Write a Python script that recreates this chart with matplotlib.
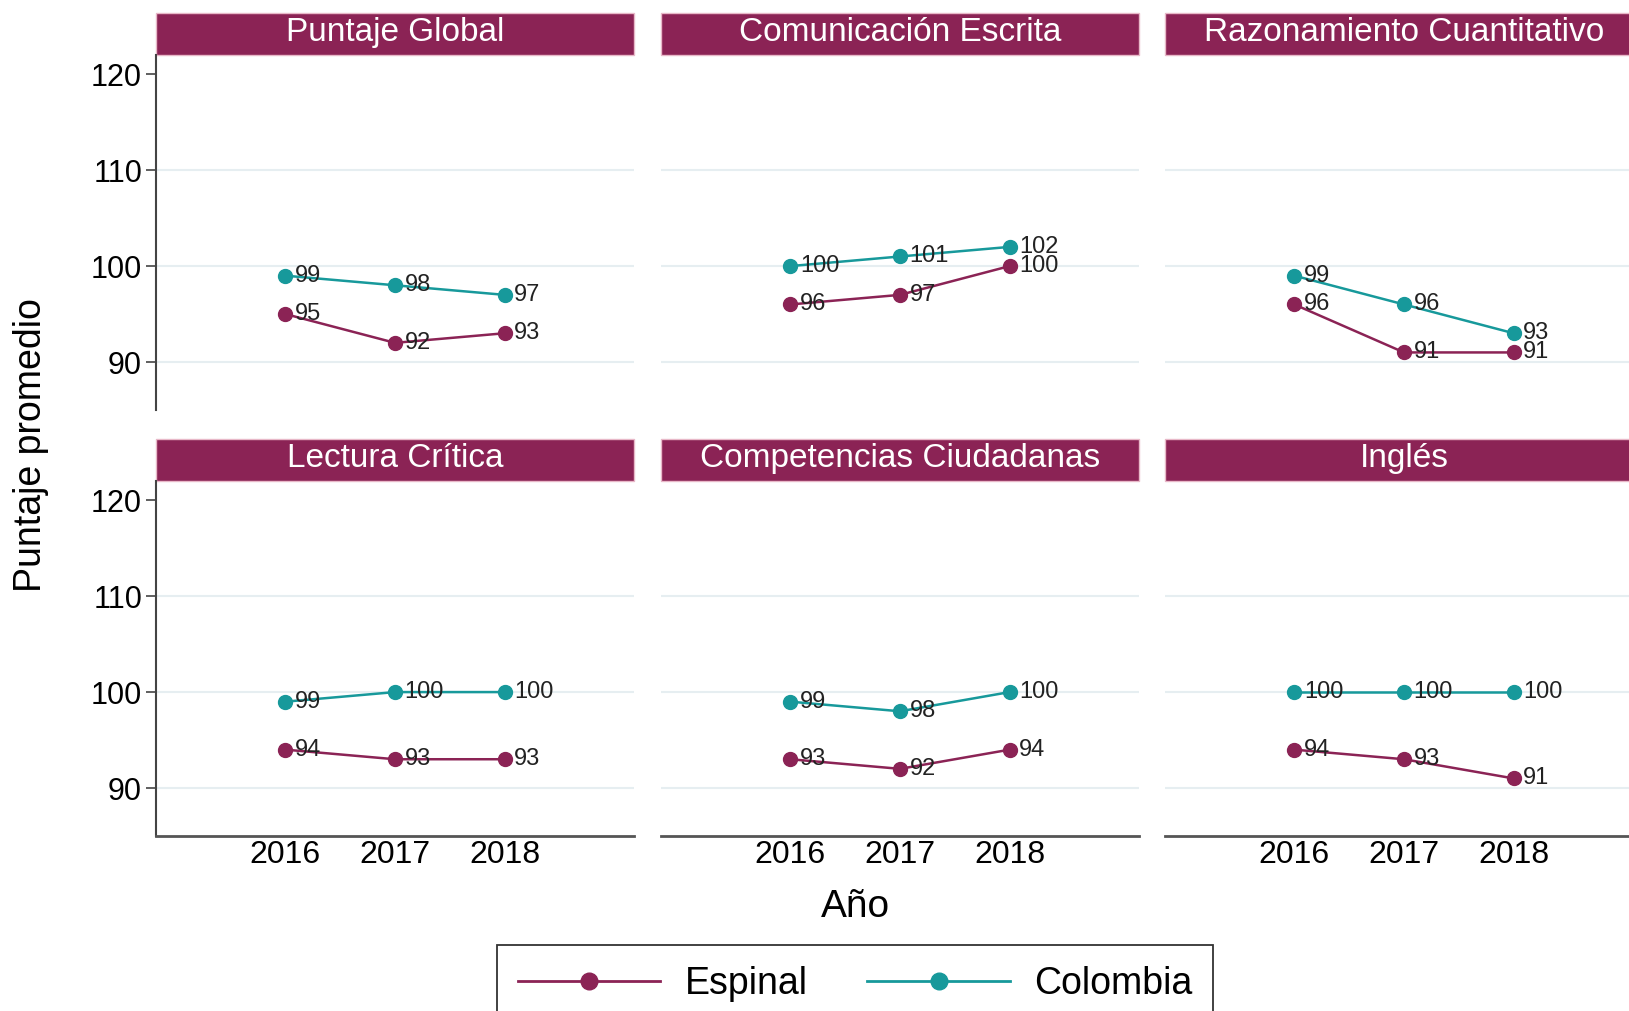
import matplotlib
matplotlib.use("Agg")
import matplotlib.pyplot as plt
from matplotlib.patches import Rectangle
from matplotlib.lines import Line2D

plt.rcParams['font.family'] = ['Liberation Sans', 'DejaVu Sans']

years = [2016, 2017, 2018]
titles = ['Puntaje Global', 'Comunicación Escrita', 'Razonamiento Cuantitativo',
          'Lectura Crítica', 'Competencias Ciudadanas', 'Inglés']
espinal = [[95, 92, 93], [96, 97, 100], [96, 91, 91],
           [94, 93, 93], [93, 92, 94], [94, 93, 91]]
colombia = [[99, 98, 97], [100, 101, 102], [99, 96, 93],
            [99, 100, 100], [99, 98, 100], [100, 100, 100]]
yticks = [90, 100, 110, 120]

maroon = '#8B2355'
teal = '#17999B'
W, H = 1629, 1011

fig = plt.figure(figsize=(W / 100, H / 100), dpi=100)

lefts = [156, 661, 1165]
tops = [55, 481]
aw, ah = 478, 355
head = 42

for i, t in enumerate(titles):
    r, c = divmod(i, 3)
    ax = fig.add_axes([lefts[c] / W, 1 - (tops[r] + ah) / H, aw / W, ah / H])
    ax.set_xlim(2014.82, 2019.18)
    ax.set_ylim(85, 122)
    for g in [90, 100, 110]:
        ax.axhline(g, color='#e6eef1', lw=1.5, zorder=0)

    ax.plot(years, espinal[i], color=maroon, lw=1.8, marker='o', ms=10, zorder=3)
    ax.plot(years, colombia[i], color=teal, lw=1.8, marker='o', ms=10, zorder=3)
    for x, v in zip(years, espinal[i]):
        ax.annotate(str(v), (x, v), xytext=(7, 0), textcoords='offset points',
                    va='center', ha='left', fontsize=17, color='#222222', zorder=4)
    for x, v in zip(years, colombia[i]):
        ax.annotate(str(v), (x, v), xytext=(7, 0), textcoords='offset points',
                    va='center', ha='left', fontsize=17, color='#222222', zorder=4)

    for s in ['top', 'right']:
        ax.spines[s].set_visible(False)
    ax.spines['left'].set_visible(c == 0)
    ax.spines['bottom'].set_visible(r == 1)
    ax.spines['left'].set_color('#444444')
    ax.spines['bottom'].set_color('#555555')
    ax.spines['left'].set_linewidth(1.5)
    ax.spines['bottom'].set_linewidth(2)

    ax.set_yticks(yticks)
    if c == 0:
        ax.tick_params(axis='y', labelsize=22, length=7, width=1.2, color='#444444', pad=3)
    else:
        ax.tick_params(axis='y', left=False, labelleft=False)
    ax.set_xticks(years)
    if r == 1:
        ax.tick_params(axis='x', labelsize=23, length=0, pad=3)
    else:
        ax.tick_params(axis='x', bottom=False, labelbottom=False)

    ax.add_patch(Rectangle((0, 1), 1, head / ah, transform=ax.transAxes, clip_on=False,
                           facecolor=maroon, edgecolor='#e8b8c8', lw=1))
    ax.text(0.5, 1 + head / ah / 2 + 0.004, t, transform=ax.transAxes, ha='center',
            va='center', color='white', fontsize=24)

fig.text(31 / W, 1 - 445 / H, 'Puntaje promedio', rotation=90, ha='center', va='center',
         fontsize=27)
fig.text(855 / W, 1 - 907 / H, 'Año', ha='center', va='center', fontsize=28)

handles = [Line2D([], [], color=maroon, lw=2, marker='o', ms=12),
           Line2D([], [], color=teal, lw=2, marker='o', ms=12)]
leg = fig.legend(handles, ['Espinal', 'Colombia'], loc='upper center',
                 bbox_to_anchor=(855 / W, 1 - 945 / H), ncol=2, fontsize=27,
                 frameon=True, fancybox=False, edgecolor='black', handlelength=3.8,
                 columnspacing=1.6, borderpad=0.55, handletextpad=0.65,
                 borderaxespad=0)
leg.get_frame().set_linewidth(1.3)

fig.savefig('out.png', dpi=100)
